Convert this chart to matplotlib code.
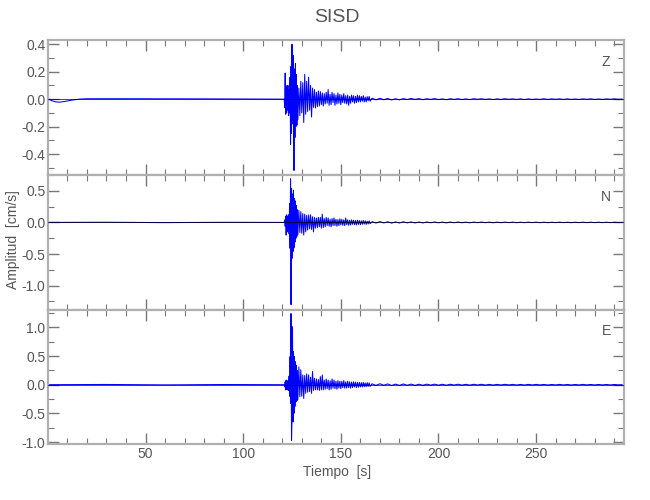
import numpy as np
import matplotlib
matplotlib.use('Agg')
import matplotlib.pyplot as plt
from matplotlib.ticker import MultipleLocator, FormatStrFormatter

plt.rcParams['font.family'] = ['Liberation Sans', 'DejaVu Sans']

# --- data ---
# each trace = quiet part before the event (explicit points) + sampled
# segments (start time, sample step, amplitudes of successive peaks)

# Z component
z_pre_t = [0.5, 2, 4, 6, 9, 12, 16, 20, 40, 80, 120.5]
z_pre_v = [0.0, -0.012, -0.02, -0.022, -0.016, -0.008, 0.0, 0.003, 0.003, 0.002, 0.0]
z_a = [0.00, -0.06, 0.19, -0.11, 0.09, -0.10, 0.10, -0.08, 0.07, -0.12,
       0.10, -0.10, 0.16, -0.33, 0.24, -0.25, 0.40, -0.18, 0.32, 0.10,
       -0.52, 0.22, -0.28, 0.26, -0.20, 0.18, -0.19, 0.10, -0.15]
z_b = [0.08, -0.12, 0.13, -0.10, 0.12, -0.17, 0.18, -0.11, 0.13, -0.09,
       0.16, -0.08, 0.10, -0.13, 0.08, -0.06, 0.07, -0.065, 0.05, -0.055,
       0.06, -0.05, 0.055, -0.04]
z_c = [0.045, -0.05, 0.04, -0.035, 0.05, -0.03, 0.07, -0.045, 0.035, -0.04,
       0.05, -0.025, 0.04, -0.045, 0.03, -0.035, 0.045, -0.03, 0.035, -0.04,
       0.03, -0.025, 0.04, -0.03, 0.025, -0.035, 0.03, -0.045, 0.02, -0.03,
       0.03, -0.02, 0.025, -0.03, 0.02, -0.025, 0.03, -0.02, 0.025, -0.02,
       0.02, -0.015, 0.025, -0.02, 0.015, -0.02, 0.018, -0.012, 0.02, -0.015]
z_d = [0.007, -0.005, 0.006, -0.004, 0.005, -0.006, 0.003, -0.005, 0.004, -0.003,
       0.005, -0.002, 0.004, -0.004, 0.003, -0.002, 0.004, -0.003, 0.002, -0.004,
       0.003, -0.002, 0.003, -0.003, 0.002, -0.003, 0.003, -0.001, 0.003, -0.002,
       0.002, -0.003, 0.002, -0.002, 0.003, -0.001, 0.002, -0.002, 0.002, -0.003,
       0.002, -0.002, 0.001, -0.002, 0.003, -0.002, 0.002, -0.001, 0.002, -0.002,
       0.002, -0.002, 0.001, -0.002, 0.002, -0.001, 0.002, -0.002, 0.001, -0.002,
       0.002, -0.001, 0.002, -0.001, 0.0]

# N component
n_pre_t = [0.5, 30, 60, 90, 120.5]
n_pre_v = [0.0, 0.003, -0.003, 0.002, 0.0]
n_a = [0.00, 0.04, -0.06, 0.10, -0.20, 0.12, -0.15, 0.10, -0.12, 0.12,
       -0.18, 0.30, -0.41, 0.69, -1.30, 0.54, -0.57, 0.45, -0.46, 0.51,
       -0.40, 0.38, -0.31, 0.34, -0.25, 0.27, -0.22, 0.20, -0.19]
n_b = [0.19, -0.16, 0.17, -0.17, 0.14, -0.20, 0.13, -0.15, 0.11, -0.12,
       0.12, -0.10, 0.12, -0.11, 0.09, -0.15, 0.08, -0.09, 0.07, -0.08,
       0.08, -0.07, 0.08, -0.09]
n_c = [0.13, -0.08, 0.06, -0.07, 0.08, -0.05, 0.07, -0.06, 0.05, -0.07,
       0.06, -0.05, 0.07, -0.05, 0.05, -0.06, 0.045, -0.05, 0.055, -0.04,
       0.05, -0.045, 0.04, -0.05, 0.07, -0.035, 0.04, -0.045, 0.035, -0.04,
       0.04, -0.03, 0.035, -0.035, 0.03, -0.04, 0.035, -0.03, 0.03, -0.035,
       0.025, -0.03, 0.03, -0.025, 0.025, -0.03, 0.02, -0.025, 0.025, -0.02]
n_d = [0.012, -0.01, 0.013, -0.008, 0.01, -0.011, 0.008, -0.009, 0.01, -0.007,
       0.008, -0.008, 0.006, -0.008, 0.007, -0.005, 0.007, -0.006, 0.005, -0.007,
       0.006, -0.005, 0.006, -0.005, 0.004, -0.006, 0.005, -0.004, 0.006, -0.004,
       0.004, -0.005, 0.004, -0.004, 0.005, -0.003, 0.004, -0.004, 0.003, -0.004,
       0.004, -0.003, 0.004, -0.004, 0.003, -0.004, 0.003, -0.003, 0.004, -0.003,
       0.003, -0.004, 0.003, -0.003, 0.004, -0.003, 0.003, -0.003, 0.003, -0.003,
       0.003, -0.003, 0.003, -0.002, 0.0]

# E component
e_pre_t = [0.5, 30, 60, 90, 120.5]
e_pre_v = [0.0, 0.004, -0.003, 0.003, 0.0]
e_a = [0.00, -0.04, 0.05, -0.09, 0.08, -0.08, 0.07, -0.09, 0.06, -0.10,
       0.15, -0.20, 0.49, -0.33, 1.24, -0.97, -0.60, 1.01, -0.65, 0.58,
       -0.50, 0.49, -0.38, 0.40, -0.30, 0.34, -0.28, 0.25, -0.26]
e_b = [0.31, -0.21, 0.26, -0.20, 0.17, -0.24, 0.16, -0.15, 0.19, -0.13,
       0.17, -0.12, 0.13, -0.15, 0.23, -0.10, 0.11, -0.09, 0.10, -0.09,
       0.09, -0.10, 0.14, -0.09]
e_c = [0.17, -0.09, 0.08, -0.08, 0.1, -0.07, 0.08, -0.09, 0.07, -0.08,
       0.1, -0.06, 0.08, -0.07, 0.06, -0.08, 0.07, -0.06, 0.06, -0.07,
       0.06, -0.05, 0.07, -0.06, 0.05, -0.06, 0.06, -0.05, 0.05, -0.06,
       0.045, -0.05, 0.05, -0.04, 0.045, -0.05, 0.04, -0.045, 0.04, -0.04,
       0.035, -0.04, 0.04, -0.035, 0.03, -0.035, 0.035, -0.03, 0.03, -0.03]
e_d = [0.015, -0.012, 0.016, -0.01, 0.013, -0.014, 0.01, -0.012, 0.012, -0.009,
       0.01, -0.011, 0.008, -0.01, 0.009, -0.007, 0.009, -0.008, 0.007, -0.009,
       0.008, -0.006, 0.008, -0.007, 0.006, -0.007, 0.007, -0.005, 0.007, -0.006,
       0.005, -0.006, 0.005, -0.005, 0.006, -0.004, 0.005, -0.005, 0.004, -0.005,
       0.005, -0.004, 0.005, -0.004, 0.004, -0.005, 0.004, -0.004, 0.005, -0.004,
       0.004, -0.005, 0.004, -0.004, 0.005, -0.004, 0.004, -0.004, 0.004, -0.004,
       0.004, -0.004, 0.004, -0.003, 0.0]

components = ['Z', 'N', 'E']
ylims = [(-0.553, 0.429), (-1.38, 0.75), (-1.04, 1.31)]
yticks_major = [0.2, 0.5, 0.5]
yticks_minor = [0.1, 0.25, 0.25]


def build_trace(pre_t, pre_v, a, b, c, d):
    t = list(pre_t)
    v = list(pre_v)
    for start, step, vals in [(121.0, 0.25, a), (128.5, 0.5, b), (140.5, 0.5, c), (166.0, 2.0, d)]:
        t += list(start + step * np.arange(len(vals)))
        v += vals
    return np.array(t), np.array(v)


traces = [build_trace(z_pre_t, z_pre_v, z_a, z_b, z_c, z_d),
          build_trace(n_pre_t, n_pre_v, n_a, n_b, n_c, n_d),
          build_trace(e_pre_t, e_pre_v, e_a, e_b, e_c, e_d)]

fig = plt.figure(figsize=(6.5, 5), dpi=100)
grey = '#555555'
axis_grey = '#b0b0b0'

left, width = 0.0743, 0.8857
bottoms = [0.65, 0.3806, 0.1114]
height = 0.2694

for i, comp in enumerate(components):
    ax = fig.add_axes([left, bottoms[i], width, height])
    t, v = traces[i]
    ax.plot(t, v, color='#0000ff', lw=0.75)
    ax.axhline(0, color='black', lw=0.5, zorder=3)
    ax.set_xlim(0.2, 295)
    ax.set_ylim(*ylims[i])
    ax.xaxis.set_major_locator(MultipleLocator(50))
    ax.xaxis.set_minor_locator(MultipleLocator(10))
    ax.yaxis.set_major_locator(MultipleLocator(yticks_major[i]))
    ax.yaxis.set_minor_locator(MultipleLocator(yticks_minor[i]))
    ax.yaxis.set_major_formatter(FormatStrFormatter('%.1f'))
    ax.tick_params(which='both', direction='in', top=True, right=True,
                   color='#777777', labelcolor=grey, labelsize=10, pad=2)
    ax.tick_params(which='major', length=8, width=1)
    ax.tick_params(which='minor', length=4.5, width=0.8)
    if i < 2:
        ax.tick_params(labelbottom=False)
    for sp in ax.spines.values():
        sp.set_color(axis_grey)
        sp.set_linewidth(1.6)
    ax.text(0.969, 0.84, comp, transform=ax.transAxes, color=grey,
            fontsize=10, ha='center', va='center')

fig.text(0.518, 0.964, 'SISD', color=grey, fontsize=14, ha='center', va='center')
fig.text(0.02, 0.52, 'Amplitud  [cm/s]', color=grey, fontsize=10,
         rotation=90, ha='center', va='center')
fig.text(0.518, 0.056, 'Tiempo  [s]', color=grey, fontsize=10, ha='center', va='center')

fig.savefig('out.png', dpi=100)
